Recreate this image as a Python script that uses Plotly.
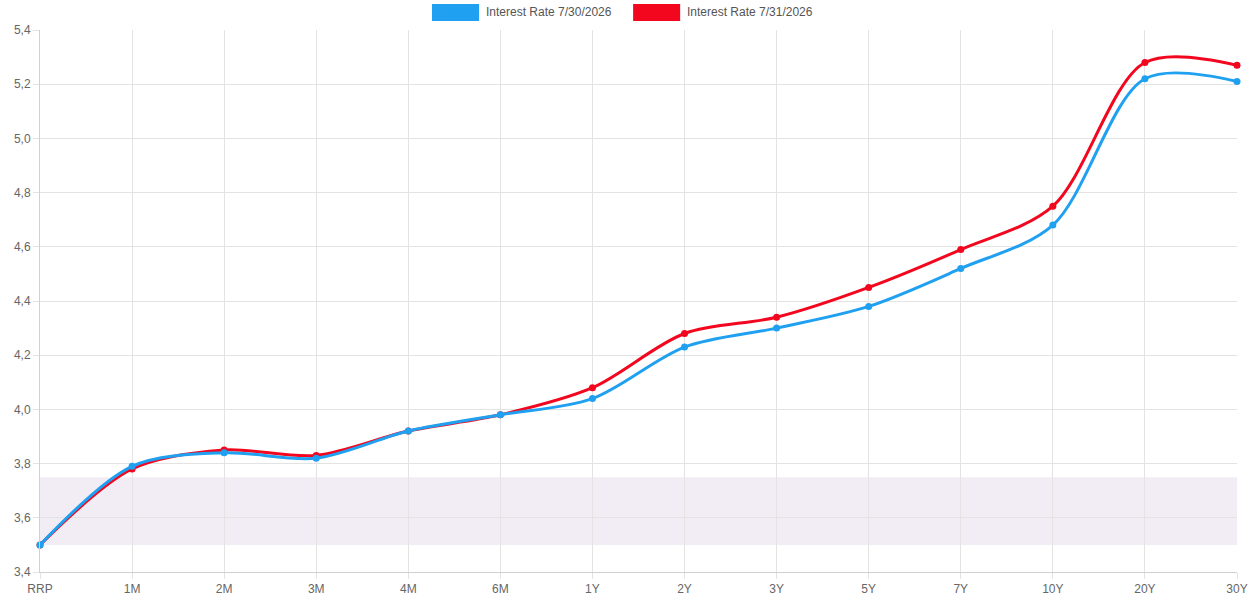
import plotly.graph_objects as go

categories = ["RRP", "1M", "2M", "3M", "4M", "6M", "1Y", "2Y", "3Y", "5Y", "7Y", "10Y", "20Y", "30Y"]
rate_0730 = [3.50, 3.79, 3.84, 3.82, 3.92, 3.98, 4.04, 4.23, 4.30, 4.38, 4.52, 4.68, 5.22, 5.21]
rate_0731 = [3.50, 3.78, 3.85, 3.83, 3.92, 3.98, 4.08, 4.28, 4.34, 4.45, 4.59, 4.75, 5.28, 5.27]
series_names = ["Interest Rate 7/30/2026", "Interest Rate 7/31/2026"]
series_colors = ["#20a0f0", "#f2071f"]
band_range = [3.5, 3.75]
y_ticks = [3.4, 3.6, 3.8, 4.0, 4.2, 4.4, 4.6, 4.8, 5.0, 5.2, 5.4]

fig = go.Figure()

# band
fig.add_shape(type="rect", xref="paper", yref="y", x0=0, x1=1,
              y0=band_range[0], y1=band_range[1],
              fillcolor="rgba(236,228,240,0.7)", line_width=0, layer="below")

# red first so blue sits on top (as in reference)
for vals, name, col in [(rate_0731, series_names[1], series_colors[1]),
                        (rate_0730, series_names[0], series_colors[0])]:
    fig.add_trace(go.Scatter(
        x=categories, y=vals, name=name, mode="lines+markers",
        line=dict(color=col, width=3, shape="spline", smoothing=0.9),
        marker=dict(color=col, size=7),
        showlegend=False, cliponaxis=False,
    ))

# custom legend (wide colour boxes like the reference)
legend_items = [(series_names[0], series_colors[0], 0.3275), (series_names[1], series_colors[1], 0.4955)]
for name, col, xp in legend_items:
    fig.add_shape(type="rect", xref="paper", yref="paper",
                  x0=xp, x1=xp + 0.0393, y0=1.0166, y1=1.048,
                  fillcolor=col, line_width=0)
    fig.add_annotation(text=name, xref="paper", yref="paper",
                       x=xp + 0.0435, y=1.0323, xanchor="left", yanchor="middle",
                       showarrow=False, font=dict(size=12, color="#555"))

fig.update_layout(
    width=1255, height=600,
    margin=dict(l=40, r=18, t=30, b=28, autoexpand=False),
    paper_bgcolor="white", plot_bgcolor="white",
    separators=",.",
    font=dict(family="Liberation Sans, Arial, sans-serif", size=12, color="#666"),
    xaxis=dict(
        type="category", range=[0, len(categories) - 1], automargin=False,
        showgrid=True, gridcolor="#e3e3e3", gridwidth=1,
        showline=True, linecolor="#d0d0d0",
        ticks="outside", ticklen=6, tickcolor="#e3e3e3",
        tickfont=dict(size=12, color="#666"), zeroline=False,
    ),
    yaxis=dict(
        range=[3.4, 5.4], tickvals=y_ticks, tickformat=".1f", automargin=False,
        showgrid=True, gridcolor="#e3e3e3", gridwidth=1,
        showline=True, linecolor="#d0d0d0",
        ticks="outside", ticklen=6, tickcolor="#e3e3e3",
        tickfont=dict(size=12, color="#666"), zeroline=False,
    ),
)

fig.write_html("out.html", config={"displayModeBar": False},
               post_script="document.body.style.margin='0';document.body.style.overflow='hidden';")
